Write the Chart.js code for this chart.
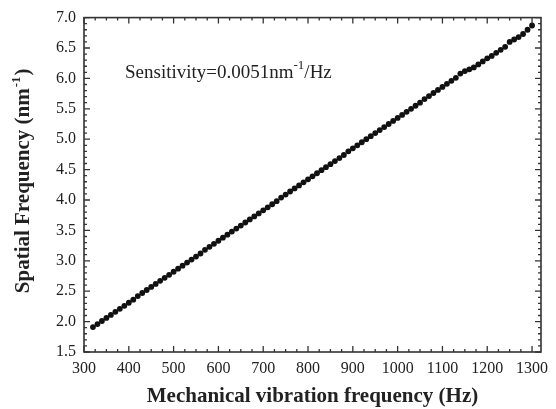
<!DOCTYPE html>
<html>
<head>
<meta charset="utf-8">
<script src="https://cdn.jsdelivr.net/npm/chart.js@4.4.0/dist/chart.umd.min.js"></script>
<style>
  html, body { margin: 0; padding: 0; background: #fff; }
  #wrap { width: 556px; height: 409px; }
</style>
</head>
<body>
<div id="wrap"><canvas id="chart"></canvas></div>
<script>
// mechanical vibration frequency (Hz)
const freqHz = [
  320, 330, 340, 350, 360, 370, 380, 390, 400, 410, 420, 430, 440, 450, 460, 470, 480, 490, 500, 510,
  520, 530, 540, 550, 560, 570, 580, 590, 600, 610, 620, 630, 640, 650, 660, 670, 680, 690, 700, 710,
  720, 730, 740, 750, 760, 770, 780, 790, 800, 810, 820, 830, 840, 850, 860, 870, 880, 890, 900, 910,
  920, 930, 940, 950, 960, 970, 980, 990, 1000, 1010, 1020, 1030, 1040, 1050, 1060, 1070, 1080, 1090, 1100, 1110,
  1120, 1130, 1140, 1150, 1160, 1170, 1180, 1190, 1200, 1210, 1220, 1230, 1240, 1250, 1260, 1270, 1280, 1290, 1300
];
// spatial frequency (nm^-1)
const spatialFreq = [
  1.91, 1.96, 2.01, 2.06, 2.11, 2.16, 2.21, 2.26, 2.31, 2.36, 2.42, 2.47, 2.52, 2.57, 2.62, 2.67, 2.72, 2.77, 2.82, 2.87,
  2.92, 2.97, 3.02, 3.07, 3.12, 3.18, 3.23, 3.28, 3.33, 3.38, 3.43, 3.48, 3.53, 3.58, 3.63, 3.68, 3.73, 3.78, 3.83, 3.88,
  3.93, 3.98, 4.04, 4.09, 4.14, 4.19, 4.24, 4.29, 4.34, 4.39, 4.44, 4.49, 4.54, 4.59, 4.64, 4.69, 4.74, 4.80, 4.85, 4.90,
  4.95, 5.00, 5.05, 5.10, 5.15, 5.20, 5.25, 5.30, 5.35, 5.40, 5.45, 5.50, 5.55, 5.60, 5.66, 5.71, 5.76, 5.81, 5.86, 5.91,
  5.96, 6.01, 6.08, 6.12, 6.15, 6.18, 6.23, 6.28, 6.33, 6.37, 6.42, 6.47, 6.52, 6.60, 6.64, 6.68, 6.73, 6.80, 6.87
];

const xTitle = "Mechanical vibration frequency (Hz)";
const yTitle = ["Spatial Frequency (nm", "-1", ")"];
const note = ["Sensitivity=0.0051nm", "-1", "/Hz"];

const serif = "'Liberation Serif', 'DejaVu Serif', serif";
const ink = "#222";

// frame, inward ticks (top/right mirrored), titles and note
const framePlugin = {
  id: "frame",
  afterDraw(chart) {
    const { ctx, chartArea: a, scales } = chart;
    const xs = scales.x, ys = scales.y;
    ctx.save();
    ctx.strokeStyle = "#333";
    ctx.lineWidth = 1.6;
    ctx.strokeRect(a.left, a.top, a.right - a.left, a.bottom - a.top);

    ctx.lineWidth = 1.3;
    ctx.beginPath();
    for (let v = 300; v <= xs.max; v += 25) {
      const px = xs.getPixelForValue(v);
      const len = v % 100 === 0 ? 6 : 3;
      ctx.moveTo(px, a.bottom); ctx.lineTo(px, a.bottom - len);
      ctx.moveTo(px, a.top); ctx.lineTo(px, a.top + len);
    }
    for (let i = 15; i <= 70; i++) {
      const py = ys.getPixelForValue(i / 10);
      const len = i % 5 === 0 ? 6 : 3;
      ctx.moveTo(a.left, py); ctx.lineTo(a.left + len, py);
      ctx.moveTo(a.right, py); ctx.lineTo(a.right - len, py);
    }
    ctx.stroke();

    ctx.fillStyle = ink;
    ctx.textBaseline = "alphabetic";

    // x title
    ctx.font = "bold 21px " + serif;
    ctx.textAlign = "center";
    ctx.fillText(xTitle, (a.left + a.right) / 2, 402);

    // y title with superscript
    ctx.save();
    ctx.translate(29, (a.top + a.bottom) / 2 - 3);
    ctx.rotate(-Math.PI / 2);
    ctx.textAlign = "left";
    const bigFont = "bold 21px " + serif, supFont = "bold 13px " + serif;
    ctx.font = bigFont; const w0 = ctx.measureText(yTitle[0]).width;
    ctx.font = supFont; const w1 = ctx.measureText(yTitle[1]).width;
    ctx.font = bigFont; const w2 = ctx.measureText(yTitle[2]).width;
    const x0 = -(w0 + w1 + w2) / 2;
    ctx.font = bigFont; ctx.fillText(yTitle[0], x0, 0);
    ctx.font = supFont; ctx.fillText(yTitle[1], x0 + w0 + 1, -9);
    ctx.font = bigFont; ctx.fillText(yTitle[2], x0 + w0 + w1 + 2, 0);
    ctx.restore();

    // sensitivity note
    const nFont = "19px " + serif, nSup = "13px " + serif;
    let nx = 125;
    const ny = 78;
    ctx.textAlign = "left";
    ctx.font = nFont; ctx.fillText(note[0], nx, ny); nx += ctx.measureText(note[0]).width;
    ctx.font = nSup; ctx.fillText(note[1], nx, ny - 9); nx += ctx.measureText(note[1]).width;
    ctx.font = nFont; ctx.fillText(note[2], nx, ny);
    ctx.restore();
  }
};

const points = freqHz.map((f, i) => ({ x: f, y: spatialFreq[i] }));

new Chart(document.querySelector("#chart"), {
  type: "scatter",
  data: {
    datasets: [
      {
        label: "spatial frequency",
        data: points,
        pointRadius: 2.9,
        pointBackgroundColor: "#111",
        pointBorderWidth: 0,
        showLine: false,
      },
    ],
  },
  options: {
    responsive: true,
    maintainAspectRatio: false,
    animation: false,
    layout: { padding: { top: 15, right: 15, left: 0, bottom: 0 } },
    plugins: {
      legend: { display: false },
      tooltip: { enabled: false },
    },
    scales: {
      x: {
        type: "linear",
        min: 300,
        max: 1320,
        grid: { display: false, drawTicks: false },
        border: { display: false },
        ticks: {
          stepSize: 100,
          includeBounds: false,
          maxRotation: 0,
          autoSkip: false,
          padding: 7,
          color: ink,
          font: { family: serif, size: 16 },
          callback: (v) => String(v),
        },
        afterFit(scale) { scale.height = 57; },
      },
      y: {
        type: "linear",
        min: 1.5,
        max: 7.0,
        grid: { display: false, drawTicks: false },
        border: { display: false },
        ticks: {
          stepSize: 0.5,
          autoSkip: false,
          padding: 8,
          color: ink,
          font: { family: serif, size: 16 },
          callback: (v) => v.toFixed(1),
        },
        afterFit(scale) { scale.width = 84; },
      },
    },
  },
  plugins: [framePlugin],
});
</script>
</body>
</html>
